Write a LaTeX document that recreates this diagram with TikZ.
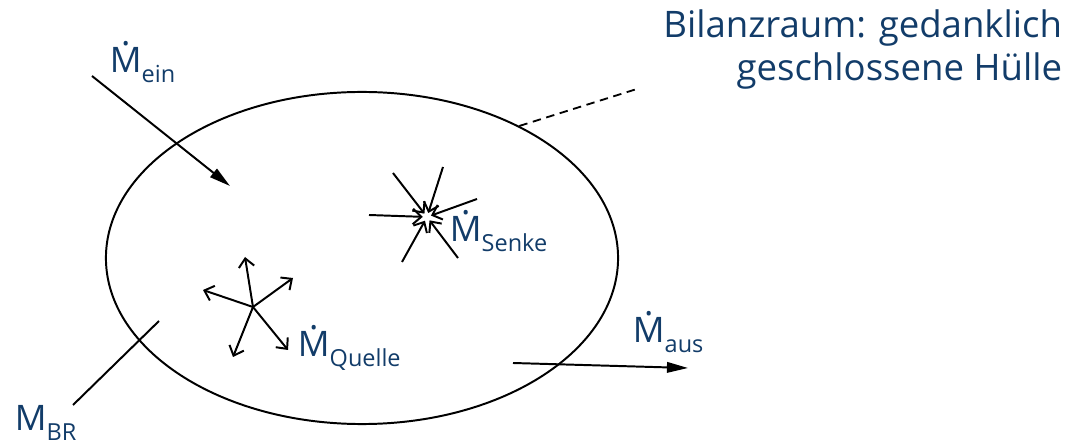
\documentclass[tikz,border=0pt]{standalone}
\usepackage{fontspec}
\setmainfont{Open Sans}
\usepackage{tikz}
\usetikzlibrary{positioning,shapes.geometric,arrows.meta}

\definecolor{navy}{HTML}{123C69}
% M with dot on top, and lowered subscript
\newcommand\Mdot{\ooalign{M\cr\hidewidth\raisebox{0.78em}{.}\hidewidth\cr}}
\newcommand\sub[1]{\raisebox{-0.28em}{\fontsize{16.7}{20}\selectfont #1}}

\begin{document}
\begin{tikzpicture}
		[
			x=0.025cm, y=-0.025cm,
			line width=1.4pt,
			lbl/.style={text=navy, font=\fontsize{25}{30}\selectfont, inner sep=0pt, anchor=base west},
			bigarrow/.style={-{Triangle[length=15pt,width=7.5pt]}},
			smallarrow/.style={-{Straight Barb[length=6pt,width=11pt]}, line width=1.4pt}
		]
		\useasboundingbox (0,0) rectangle (1068,445);

		% balance space
		\node (hull) [draw, ellipse, minimum width=12.8cm, minimum height=8.3cm, inner sep=0pt] at (362,258) {};
		\coordinate (hullend) at (640,88);
		\draw[dash pattern=on 6pt off 4pt, line width=1.3pt] (hull.40) -- (hullend);
		\node (title) [lbl, anchor=base east, align=right, font=\fontsize{26}{31}\selectfont] at (1063,81) {Bilanzraum: gedanklich\\geschlossene Hülle};

		% inflow
		\coordinate (einstart) at (92,76);
		\coordinate (einend) at (230,186);
		\draw[bigarrow] (einstart) -- (einend);
		\node (ein) [lbl] at (109,73) {\Mdot\sub{ein}};

		% outflow
		\coordinate (ausstart) at (513,363);
		\coordinate (ausend) at (688,368);
		\draw[bigarrow] (ausstart) -- (ausend);
		\node (aus) [lbl] at (632,343) {\Mdot\sub{aus}};

		% source
		\coordinate (quelle) at (253,307);
		\foreach \px/\py [count=\i] in {245/257, 203/290, 293/278, 233/357, 288/350}
		{
			\coordinate (q\i) at (\px,\py);
			\draw[smallarrow] (quelle) -- (q\i);
		}
		\node (quellelbl) [lbl] at (297,357) {\Mdot\sub{Quelle}};

		% sink
		\coordinate (senke) at (427,217);
		\foreach \px/\py [count=\i] in {369/215, 393/173, 443/167, 477/199, 402/262, 458/258}
		{
			\coordinate (s\i) at (\px,\py);
			\draw[smallarrow, shorten >=3pt] (s\i) -- (senke);
		}
		\node (senkelbl) [lbl] at (449,242) {\Mdot\sub{Senke}};

		% mass in balance space
		\coordinate (brstart) at (159,321);
		\coordinate (brend) at (73,405);
		\draw (brstart) -- (brend);
		\node (br) [lbl] at (14,431) {M\sub{BR}};
	\end{tikzpicture}
\end{document}
